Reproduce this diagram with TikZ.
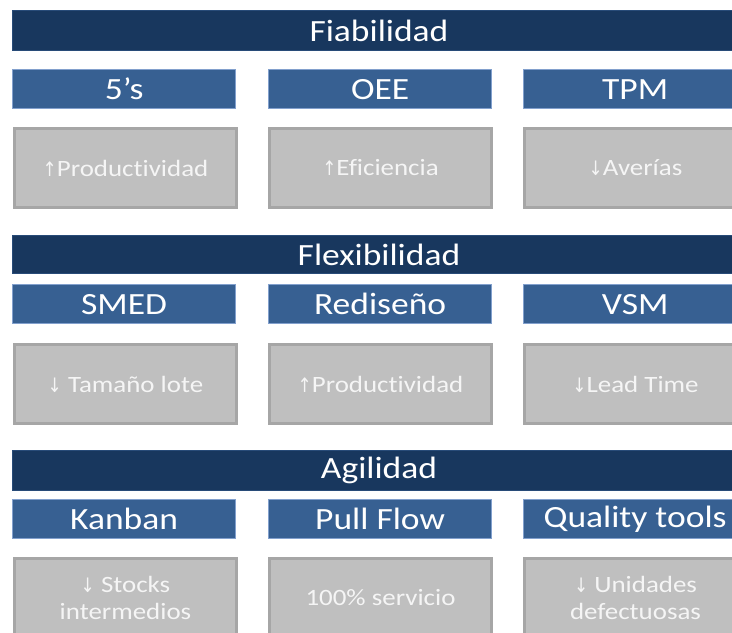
\documentclass[tikz,border=0pt]{standalone}
\usepackage{fontspec}
\setmainfont{Carlito}[FakeStretch=1.15, Ligatures={NoCommon}]
\newfontfamily\arrowfont{DejaVu Sans}[FakeStretch=0.85]
\definecolor{navy}{RGB}{24,55,94}
\definecolor{navyedge}{RGB}{40,75,120}
\definecolor{midblue}{RGB}{55,96,146}
\definecolor{midedge}{RGB}{130,160,205}
\definecolor{boxgray}{RGB}{191,191,191}
\definecolor{grayedge}{RGB}{166,166,166}
\definecolor{soft}{RGB}{245,245,245}
\newcommand{\up}{{\arrowfont\fontsize{20}{24}\selectfont↑}}
\newcommand{\dn}{{\arrowfont\fontsize{20}{24}\selectfont↓}}
\tikzset{
  x=1bp, y=-1bp,
  headbar/.style={anchor=north west, inner sep=0pt, minimum width=733bp,
    fill=navy, draw=navyedge, line width=1bp, text=white,
    font=\fontsize{31}{36}\selectfont},
  toolbox/.style={anchor=north west, inner sep=0pt, minimum width=223bp,
    minimum height=39bp, fill=midblue, draw=midedge, line width=1.2bp,
    text=white, font=\fontsize{31}{36}\selectfont},
  effectbox/.style={anchor=north west, inner sep=0pt, minimum width=222bp,
    minimum height=79bp, fill=boxgray, draw=grayedge, line width=3bp,
    text=soft, align=center, font=\fontsize{23.5}{28}\selectfont},
}
\begin{document}
\begin{tikzpicture}
\useasboundingbox (0,0) rectangle (732,633);
\clip (0,0) rectangle (732,633);

% --- Fiabilidad ---
\node[headbar, minimum height=40bp] (fia) at (12,10) {Fiabilidad};
\node[toolbox] (s5)  at (12,69)  {5’s};
\node[toolbox] (oee) at (268,69) {OEE};
\node[toolbox] (tpm) at (523,69) {TPM};
\node[effectbox] (e11) at (13,127)  {\up Productividad};
\node[effectbox] (e12) at (268,127) {\up Eficiencia};
\node[effectbox] (e13) at (523,127) {\dn Averías};

% --- Flexibilidad ---
\node[headbar, minimum height=38bp] (fle) at (12,235) {Flexibilidad};
\node[toolbox] (smed) at (12,284)  {SMED};
\node[toolbox] (red)  at (268,284) {Rediseño};
\node[toolbox] (vsm)  at (523,284) {VSM};
\node[effectbox] (e21) at (13,343)  {\dn{} Tamaño lote};
\node[effectbox] (e22) at (268,343) {\up Productividad};
\node[effectbox] (e23) at (523,343) {\dn Lead Time};

% --- Agilidad ---
\node[headbar, minimum height=40bp] (agi) at (12,450) {Agilidad};
\node[toolbox] (kan)  at (12,499)  {Kanban};
\node[toolbox] (pull) at (268,499) {Pull Flow};
\node[toolbox] (qt)   at (523,499) {Quality tools};
\node[effectbox] (e31) at (13,557)  {\dn{} Stocks\\intermedios};
\node[effectbox] (e32) at (268,557) {100\% servicio};
\node[effectbox] (e33) at (523,557) {\dn{} Unidades\\defectuosas};
\end{tikzpicture}
\end{document}
